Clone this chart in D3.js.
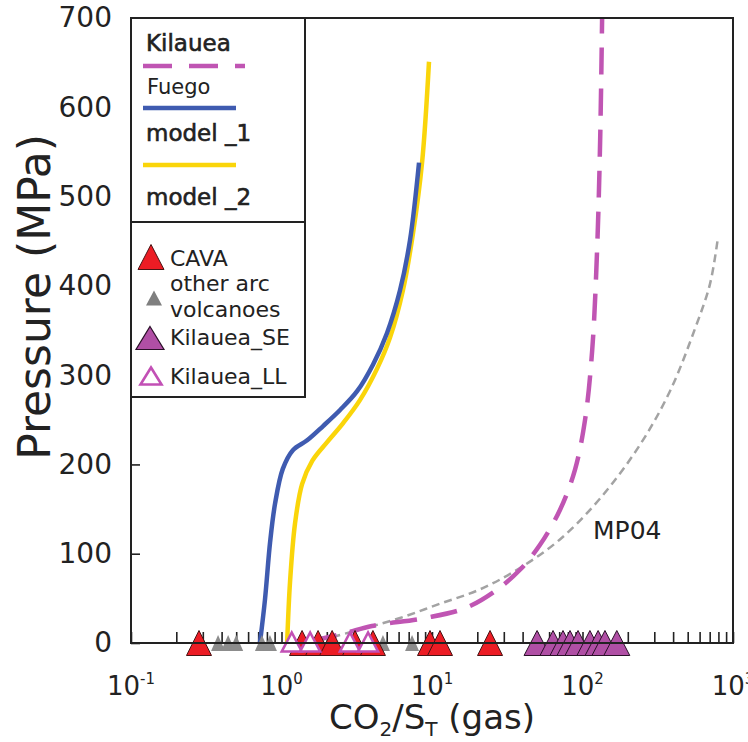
<!DOCTYPE html>
<html>
<head>
<meta charset="utf-8">
<script src="https://cdn.jsdelivr.net/npm/d3@7"></script>
<style>
body { margin: 0; background: #fff; }
svg { display: block; }
text { font-family: "DejaVu Sans", "Liberation Sans", sans-serif; fill: #222; }
</style>
</head>
<body>
<div class="mainviz"></div>
<script>
// model curves: CO2/ST (gas) vs pressure (MPa)
var model1X = [0.719, 0.776, 0.840, 0.906, 1.02, 1.19, 1.48, 1.89, 2.45, 3.18, 4.06, 5.02, 6.13, 7.14, 8.20];
var model1P = [0, 48, 113, 156, 195, 216, 227, 243, 261, 282, 312, 347, 395, 451, 538];

var model2X = [1.09, 1.14, 1.23, 1.37, 1.60, 2.01, 2.56, 3.32, 4.31, 5.26, 6.41, 7.48, 8.59, 9.55];
var model2P = [0, 69, 134, 178, 204, 225, 246, 272, 307, 342, 395, 459, 538, 651];

var kilaueaX = [1.55, 2.64, 3.99, 8.98, 16.6, 26.2, 38.4, 52.2, 70.8, 89.1, 104, 116, 125, 131, 135];
var kilaueaP = [2, 11, 19, 28, 39, 58, 82, 110, 149, 194, 250, 328, 440, 563, 700];

var mp04X = [1.80, 3.32, 6.13, 11.3, 20.8, 38.4, 70.8, 131, 241, 381, 559, 703, 794];
var mp04P = [3, 15, 28, 44, 60, 84, 116, 162, 222, 282, 352, 402, 454];

// gas data, all plotted at P = 0
var cavaX = [0.283, 1.37, 1.75, 2.17, 3.08, 4.05, 9.70, 11.3, 24.3];
var otherArcX = [0.379, 0.442, 0.50, 0.741, 0.838, 4.72, 7.37];
var kilaueaLLX = [1.17, 1.55, 2.85, 3.76];
var kilaueaSEX = [49.9, 63.7, 74.2, 82.6, 93.4, 112, 127, 141, 169];

var yTicks = [0, 100, 200, 300, 400, 500, 600, 700];
var xMajor = [0.1, 1, 10, 100, 1000];
var xExp = ["-1", "0", "1", "2", "3"];

var margin = { top: 18, right: 15, bottom: 99, left: 131 };
var width = 748 - margin.left - margin.right,
	height = 742 - margin.top - margin.bottom;

var svg = d3.select(".mainviz").append("svg")
	.attr("width", 748)
	.attr("height", 742);

var chart = svg.append("g")
	.attr("transform", "translate(" + margin.left + "," + margin.top + ")");

var x = d3.scaleLog().domain([0.1, 1000]).range([0, width]);
var y = d3.scaleLinear().domain([0, 700]).range([height, 0]);

function pairs(xs, ps) { return xs.map(function(v, i) { return [v, ps[i]]; }); }

var line = d3.line()
	.x(function(d) { return x(d[0]); })
	.y(function(d) { return y(d[1]); })
	.curve(d3.curveCatmullRom.alpha(0.5));

// axes
var xTickVals = [];
[0.1, 1, 10, 100].forEach(function(d) { for (var k = 1; k < 10; k++) xTickVals.push(d * k); });
xTickVals.push(1000);

chart.append("g")
	.attr("class", "axis x")
	.attr("transform", "translate(0," + height + ")")
	.call(d3.axisBottom(x).tickValues(xTickVals).tickSizeInner(-11).tickSizeOuter(0).tickFormat(""))
	.call(function(g) { g.select(".domain").remove(); })
	.selectAll("line").attr("stroke", "#222").attr("stroke-width", 1.6);

chart.append("g")
	.attr("class", "axis y")
	.call(d3.axisLeft(y).tickValues(yTicks).tickSizeInner(-9).tickSizeOuter(0).tickPadding(19))
	.call(function(g) { g.select(".domain").remove(); })
	.call(function(g) { g.selectAll("line").attr("stroke", "#222").attr("stroke-width", 1.6); })
	.selectAll("text")
	.style("font-size", "28px")
	.style("font-family", "DejaVu Sans")
	.attr("fill", "#222");

chart.selectAll("text.xlab")
	.data(xMajor)
	.enter().append("text")
	.attr("class", "xlab")
	.attr("x", function(d) { return x(d); })
	.attr("y", height + 52)
	.attr("text-anchor", "middle")
	.style("font-size", "26px")
	.each(function(d, i) {
		var t = d3.select(this);
		t.append("tspan").text("10");
		t.append("tspan").attr("dy", -11).style("font-size", "15px").text(xExp[i]);
	});

// curves
chart.append("path")
	.attr("d", line(pairs(mp04X, mp04P)))
	.attr("fill", "none").attr("stroke", "#a3a3a3").attr("stroke-width", 2.5)
	.attr("stroke-dasharray", "8,5");

chart.append("path")
	.attr("d", line(pairs(kilaueaX, kilaueaP)))
	.attr("fill", "none").attr("stroke", "#c055b3").attr("stroke-width", 4.5)
	.attr("stroke-dasharray", "27,14");

chart.append("path")
	.attr("d", line(pairs(model2X, model2P)))
	.attr("fill", "none").attr("stroke", "#fad50a").attr("stroke-width", 4.5);

chart.append("path")
	.attr("d", line(pairs(model1X, model1P)))
	.attr("fill", "none").attr("stroke", "#3f5bb0").attr("stroke-width", 4.5);

chart.append("text")
	.attr("x", 462).attr("y", 521)
	.style("font-size", "25px").attr("fill", "#333")
	.text("MP04");

// triangles
function tri(w, h) {
	return "M0," + (-h / 2) + "L" + (w / 2) + "," + (h / 2) + "L" + (-w / 2) + "," + (h / 2) + "Z";
}

chart.selectAll("path.other")
	.data(otherArcX)
	.enter().append("path")
	.attr("class", "other")
	.attr("d", tri(14, 16))
	.attr("transform", function(d) { return "translate(" + x(d) + "," + y(0) + ")"; })
	.attr("fill", "#8c8c8c");

chart.selectAll("path.cava")
	.data(cavaX)
	.enter().append("path")
	.attr("class", "cava")
	.attr("d", tri(25, 25))
	.attr("transform", function(d) { return "translate(" + x(d) + "," + y(0) + ")"; })
	.attr("fill", "#ec1c24").attr("stroke", "#4a1414").attr("stroke-width", 1);

chart.selectAll("path.ll")
	.data(kilaueaLLX)
	.enter().append("path")
	.attr("class", "ll")
	.attr("d", tri(20, 19))
	.attr("transform", function(d) { return "translate(" + x(d) + "," + (y(0) - 1) + ")"; })
	.attr("fill", "#fff").attr("stroke", "#c250b5").attr("stroke-width", 2.6);

chart.selectAll("path.se")
	.data(kilaueaSEX)
	.enter().append("path")
	.attr("class", "se")
	.attr("d", tri(26, 25))
	.attr("transform", function(d) { return "translate(" + x(d) + "," + y(0) + ")"; })
	.attr("fill", "#b04fa5").attr("stroke", "#2a1028").attr("stroke-width", 1);

// frame
chart.append("rect")
	.attr("width", width).attr("height", height)
	.attr("fill", "none").attr("stroke", "#222").attr("stroke-width", 2);

// legend
var legend = chart.append("g");
legend.append("rect").attr("width", 174).attr("height", 204)
	.attr("fill", "#fff").attr("stroke", "#222").attr("stroke-width", 2);
legend.append("rect").attr("y", 204).attr("width", 174).attr("height", 175)
	.attr("fill", "#fff").attr("stroke", "#222").attr("stroke-width", 2);

function semibold(t) { return t.style("font-size", "23px").attr("stroke", "#222").attr("stroke-width", 0.6); }

semibold(legend.append("text").attr("x", 15).attr("y", 33).text("Kilauea"));
legend.append("line").attr("x1", 12).attr("x2", 114).attr("y1", 48).attr("y2", 48)
	.attr("stroke", "#c055b3").attr("stroke-width", 4.5).attr("stroke-dasharray", "29,17");
legend.append("text").attr("x", 16).attr("y", 76).style("font-size", "21px").attr("fill", "#444").text("Fuego");
legend.append("line").attr("x1", 12).attr("x2", 105).attr("y1", 90).attr("y2", 90)
	.attr("stroke", "#3f5bb0").attr("stroke-width", 4.5);
semibold(legend.append("text").attr("x", 15).attr("y", 123).text("model _1"));
legend.append("line").attr("x1", 12).attr("x2", 105).attr("y1", 147).attr("y2", 147)
	.attr("stroke", "#fad50a").attr("stroke-width", 4.5);
semibold(legend.append("text").attr("x", 15).attr("y", 187).text("model _2"));

legend.append("path").attr("d", tri(26, 25)).attr("transform", "translate(20,239)")
	.attr("fill", "#ec1c24").attr("stroke", "#4a1414").attr("stroke-width", 1);
legend.append("text").attr("x", 39).attr("y", 248).style("font-size", "22px").text("CAVA");
legend.append("path").attr("d", tri(16, 15)).attr("transform", "translate(23,280)")
	.attr("fill", "#7f7f7f");
legend.append("text").attr("x", 39).attr("y", 273).style("font-size", "22px").text("other arc");
legend.append("text").attr("x", 39).attr("y", 299).style("font-size", "22px").text("volcanoes");
legend.append("path").attr("d", tri(28, 23)).attr("transform", "translate(19,320)")
	.attr("fill", "#b04fa5").attr("stroke", "#2a1028").attr("stroke-width", 1.2);
legend.append("text").attr("x", 39).attr("y", 327).style("font-size", "22px").text("Kilauea_SE");
legend.append("path").attr("d", tri(21, 17)).attr("transform", "translate(20,358)")
	.attr("fill", "#fff").attr("stroke", "#c250b5").attr("stroke-width", 2.6);
legend.append("text").attr("x", 39).attr("y", 366).style("font-size", "22px").text("Kilauea_LL");

// axis titles
svg.append("text")
	.attr("transform", "translate(50," + 297 + ") rotate(-90)")
	.attr("text-anchor", "middle")
	.style("font-size", "44px")
	.text("Pressure (MPa)");

var xt = svg.append("text")
	.attr("x", margin.left + width / 2)
	.attr("y", 729)
	.attr("text-anchor", "middle")
	.style("font-size", "34px");
xt.append("tspan").text("CO");
xt.append("tspan").attr("dy", 7).style("font-size", "20px").text("2");
xt.append("tspan").attr("dy", -7).text("/S");
xt.append("tspan").attr("dy", 7).style("font-size", "20px").text("T");
xt.append("tspan").attr("dy", -7).text(" (gas)");
</script>
</body>
</html>
